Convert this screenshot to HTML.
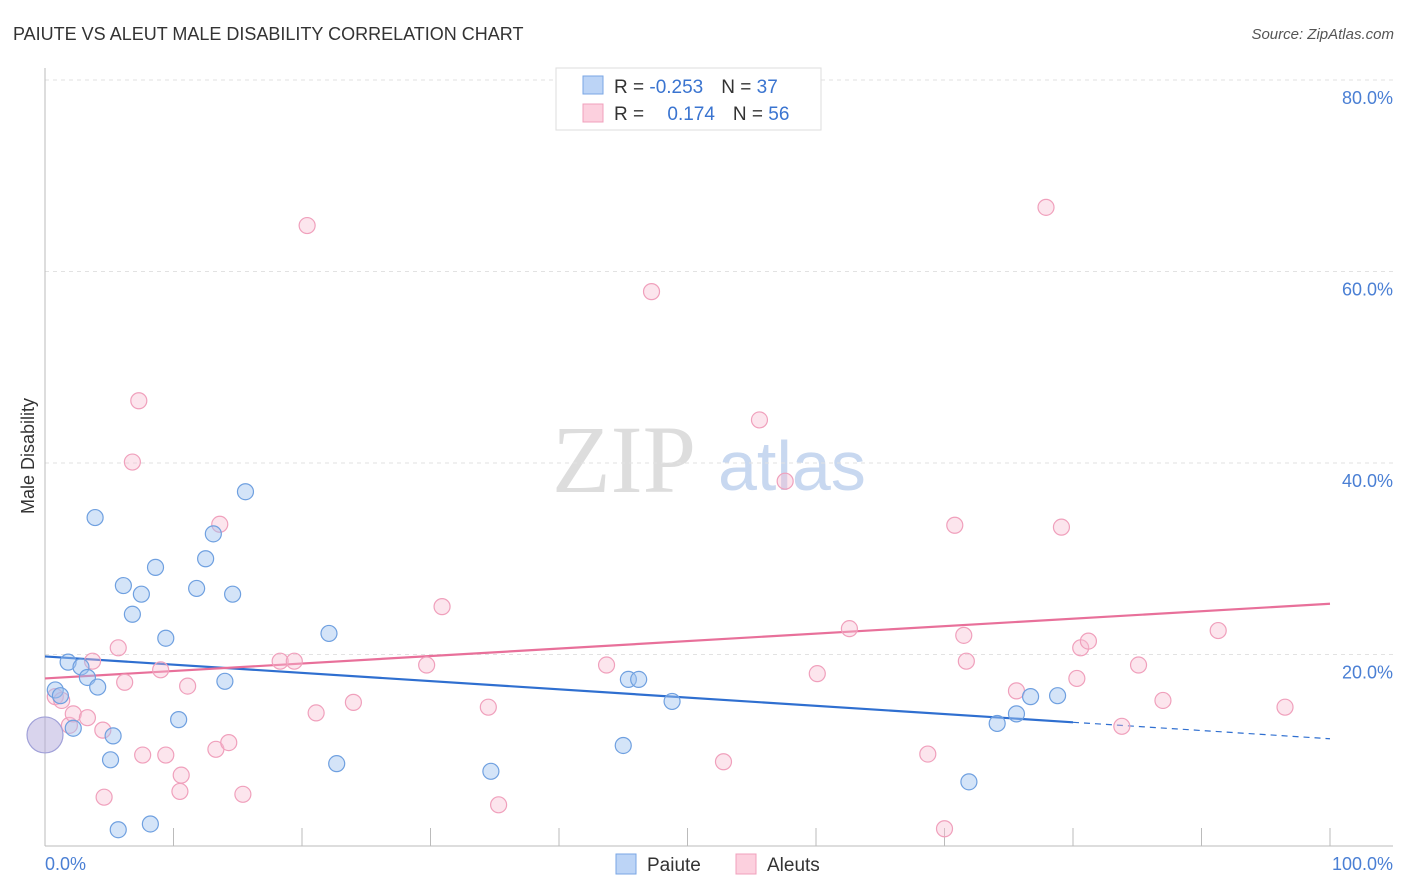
<!DOCTYPE html>
<html><head><meta charset="utf-8">
<style>
body{margin:0;background:#fff;font-family:"Liberation Sans",sans-serif;}
svg{display:block}
</style></head>
<body>
<svg id="chart" width="1406" height="892" xmlns="http://www.w3.org/2000/svg">
<text x="13" y="40" font-size="18" fill="#333">PAIUTE VS ALEUT MALE DISABILITY CORRELATION CHART</text>
<text x="1394" y="39" font-size="15" fill="#555" font-style="italic" text-anchor="end">Source: ZipAtlas.com</text>
<text x="552" y="492" font-size="96" fill="#ddd" font-family="Liberation Serif,serif">ZIP</text>
<text x="718" y="490" font-size="70" fill="#c8d8f0">atlas</text>
<g id="grid"></g>
<g id="axes"></g>
<g id="lines"></g>
<g id="pts"></g>
<text transform="translate(34,456) rotate(-90)" font-size="18" fill="#333" text-anchor="middle">Male Disability</text>
<text x="45" y="870" font-size="18" fill="#4a7fd4">0.0%</text>
<text x="1393" y="870" font-size="18" fill="#4a7fd4" text-anchor="end">100.0%</text>
<g>
<rect x="556" y="68" width="265" height="62" fill="#fff" stroke="#ddd"/>
<rect x="583" y="76" width="20" height="18" fill="#bcd4f6" stroke="#7aa6e4"/>
<rect x="583" y="104" width="20" height="18" fill="#fcd0de" stroke="#f0a0bc"/>
<text x="614" y="93" font-size="19" fill="#333">R = <tspan fill="#3a74d0">-0.253</tspan><tspan dx="18">N = </tspan><tspan fill="#3a74d0">37</tspan></text>
<text x="614" y="120" font-size="19" fill="#333">R = <tspan dx="18" fill="#3a74d0">0.174</tspan><tspan dx="18">N = </tspan><tspan fill="#3a74d0">56</tspan></text>
</g>
<g>
<rect x="616" y="854" width="20" height="20" fill="#bcd4f6" stroke="#7aa6e4"/>
<text x="647" y="871" font-size="19" fill="#333">Paiute</text>
<rect x="736" y="854" width="20" height="20" fill="#fcd0de" stroke="#f0a0bc"/>
<text x="767" y="871" font-size="19" fill="#333">Aleuts</text>
</g>
</svg>
<script>
const yTicks=[20,40,60,80];
const paiuteX=[0.8,1.2,1.8,2.2,2.8,3.3,3.9,4.1,5.1,5.3,5.7,6.1,6.8,7.5,8.2,8.6,9.4,10.4,11.8,12.5,13.1,14.0,14.6,15.6,22.1,22.7,34.7,45.0,45.4,46.2,48.8,71.9,74.1,75.6,76.7,78.8];
const paiuteY=[16.3,15.7,19.2,12.3,18.7,17.6,34.3,16.6,9.0,11.5,1.7,27.2,24.2,26.3,2.3,29.1,21.7,13.2,26.9,30.0,32.6,17.2,26.3,37.0,22.2,8.6,7.8,10.5,17.4,17.4,15.1,6.7,12.8,13.8,15.6,15.7];
const aleutX=[0.8,1.3,1.9,2.2,3.3,3.7,4.5,4.6,5.7,6.2,6.8,7.3,7.6,9.0,9.4,10.6,10.5,11.1,13.3,13.6,14.3,15.4,18.3,19.4,20.4,21.1,24.0,29.7,30.9,34.5,35.3,43.7,47.2,52.8,55.6,57.6,60.1,62.6,68.7,70.0,70.8,71.5,71.7,75.6,77.9,79.1,80.3,80.6,81.2,83.8,85.1,87.0,91.3,96.5];
const aleutY=[15.6,15.2,12.6,13.8,13.4,19.3,12.1,5.1,20.7,17.1,40.1,46.5,9.5,18.4,9.5,7.4,5.7,16.7,10.1,33.6,10.8,5.4,19.3,19.3,64.8,13.9,15.0,18.9,25.0,14.5,4.3,18.9,57.9,8.8,44.5,38.1,18.0,22.7,9.6,1.8,33.5,22.0,19.3,16.2,66.7,33.3,17.5,20.7,21.4,12.5,18.9,15.2,22.5,14.5];
const paiuteTrend=[19.8,11.2];
const aleutTrend=[17.5,25.3];
const NS="http://www.w3.org/2000/svg";
const sx=v=>45+v*12.85, sy=v=>846-v*9.575;
function mk(tag,attrs,parent){const e=document.createElementNS(NS,tag);for(const k in attrs)e.setAttribute(k,attrs[k]);document.getElementById(parent).appendChild(e);return e;}
yTicks.forEach(t=>{
 const l=mk('line',{x1:45,x2:1393,y1:sy(t),y2:sy(t),stroke:'#e2e2e2','stroke-dasharray':'4 4'},'grid');
 
 
 const tx=mk('text',{x:1393,y:sy(t)+24,'font-size':18,fill:'#4a7fd4','text-anchor':'end'},'grid');
 tx.textContent=t.toFixed(1)+'%';
 
 
});
let a=mk('line',{x1:45,x2:45,y1:68,y2:846,stroke:'#bbb'},'axes');


a=mk('line',{x1:45,x2:1393,y1:846,y2:846,stroke:'#bbb'},'axes');


for(let i=1;i<=10;i++){
 const t=mk('line',{x1:sx(i*10),x2:sx(i*10),y1:828,y2:846,stroke:'#bbb'},'axes');
 
 
}
function dot(x,y,r,fill,stroke,name){
 const c=mk('circle',{cx:sx(x),cy:sy(y),r:r,fill:fill,stroke:stroke,'stroke-width':1.2},'pts');
 
 
}
aleutX.forEach((x,i)=>dot(x,aleutY[i],8,'rgba(248,190,210,0.4)','#f0a0bc','aleut-point'));
paiuteX.forEach((x,i)=>dot(x,paiuteY[i],8,'rgba(160,195,240,0.45)','#6fa0e0','paiute-point'));
dot(0,11.6,18,'rgba(180,170,220,0.5)','#a0a0d8','paiute-point-large');
const by=x=>paiuteTrend[0]+(paiuteTrend[1]-paiuteTrend[0])*x/100;
let l=mk('line',{x1:sx(0),y1:sy(by(0)),x2:sx(80),y2:sy(by(80)),stroke:'#2f6fd0','stroke-width':2.2},'lines');


l=mk('line',{x1:sx(80),y1:sy(by(80)),x2:sx(100),y2:sy(by(100)),stroke:'#2f6fd0','stroke-width':1.2,'stroke-dasharray':'6 5'},'lines');


l=mk('line',{x1:sx(0),y1:sy(aleutTrend[0]),x2:sx(100),y2:sy(aleutTrend[1]),stroke:'#e8709a','stroke-width':2.2},'lines');


</script>
</body></html>
